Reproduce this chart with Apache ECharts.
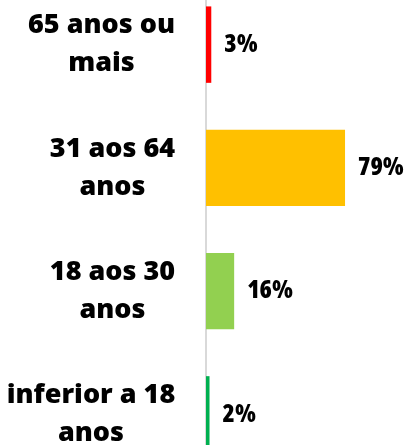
<!DOCTYPE html>
<html><head><meta charset="utf-8">
<script src="https://cdn.jsdelivr.net/npm/echarts@6/dist/echarts.min.js"></script>
<style>html,body{margin:0;padding:0;background:#fff;overflow:hidden;width:408px;height:445px}#c{position:absolute;left:0;top:-16.7px;width:408px;height:493.3px}</style>
</head><body><div id="c"></div>
<script>
const categories = ['65 anos ou\nmais', '31 aos 64\nanos', '18 aos 30\nanos', 'inferior a 18\nanos'];
const values = [3, 79, 16, 2];
const colors = ['#ff0000', '#ffc000', '#92d050', '#00b050'];

const FONT = "'Open Sans'";
const CAT_SIZE = 27;
const ctx = document.createElement('canvas').getContext('2d');
ctx.font = '800 ' + CAT_SIZE + 'px ' + FONT;
const rich = {};
categories.forEach((c, i) => {
  const w = Math.max(...c.split('\n').map(s => ctx.measureText(s).width));
  rich['l' + i] = { width: Math.ceil(w) + 1, align: 'center', fontFamily: FONT, fontWeight: '800', fontSize: CAT_SIZE, lineHeight: 38, color: '#000' };
});

const chart = echarts.init(document.getElementById('c'));
chart.setOption({
  animation: false,
  grid: { left: 206, right: 26, top: 0, bottom: 0, containLabel: false },
  xAxis: { type: 'value', min: 0, max: 100, show: false },
  yAxis: {
    type: 'category', inverse: true, data: categories,
    axisLine: { show: true, lineStyle: { color: '#d9d9d9', width: 2 } },
    axisTick: { show: false },
    axisLabel: {
      margin: 30, align: 'right',
      formatter: (v, i) => v.split('\n').map(s => '{l' + i + '|' + s + '}').join('\n'),
      rich: rich
    }
  },
  series: [{
    type: 'bar', data: values.map((v, i) => ({ value: v, itemStyle: { color: colors[i] } })),
    barCategoryGap: '38%',
    label: { show: true, position: 'right', distance: 13, formatter: '{c}%', fontFamily: FONT, fontWeight: '800 semi-condensed', fontSize: 25, color: '#000' }
  }]
});
</script></body></html>
